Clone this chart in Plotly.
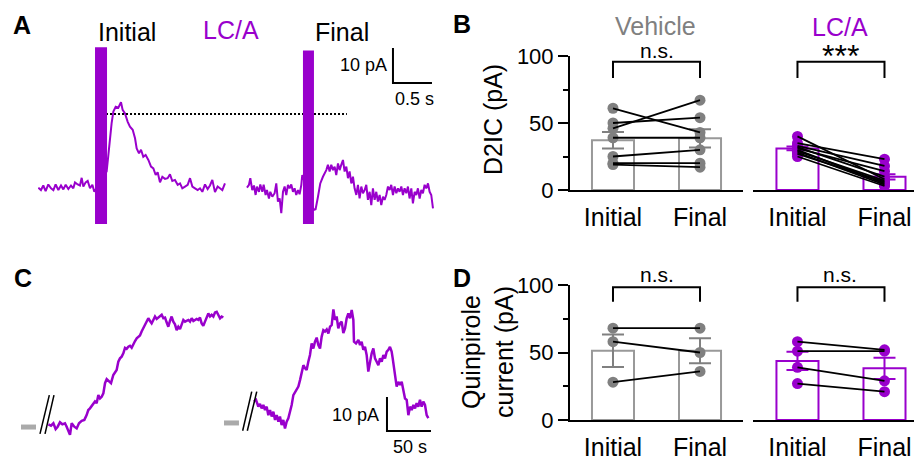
import plotly.graph_objects as go

# page pixel size of the reference; the browser puts an 8 px body margin around the figure
W, H = 922, 457
PAD = 8
FW, FH = W - PAD, H - PAD
PURPLE = '#9900cc'
GREY = '#808080'
GREY_BAR = '#999999'
GREY_HOLD = '#aaaaaa'
FONT = 'Liberation Sans, Arial, sans-serif'

# ---------------- Panel A : evoked D2-IPSC traces (time s, current pA) ----------------
a_init_t = [0.004,0.038,0.068,0.098,0.132,0.167,0.197,0.226,0.261,0.295,0.325,0.355,0.389,0.423,0.453,0.474,0.509,0.538,0.560,0.581,0.611,0.637,0.667,0.697,0.722,
            0.880,0.902,0.923,0.944,0.966,0.996,1.030,1.064,1.085,1.115,1.150,1.179,1.214,1.244,1.265,1.295,1.321,1.350,1.380,1.415,1.449,1.479,1.509,1.534,1.564,
            1.594,1.628,1.662,1.692,1.722,1.756,1.791,1.821,1.850,1.885,1.919,1.949,1.979,2.013,2.047,2.077,2.107,2.141,2.175,2.205,2.235,2.269,2.303,2.333,2.363,2.397]
a_init_pA = [0.2,-0.5,0.8,-0.8,1.1,0.0,-0.5,1.1,-0.5,0.8,-0.3,1.0,-0.2,0.8,0.0,1.7,1.1,0.8,3.0,0.5,1.7,2.1,0.0,1.0,-1.0,
             4.8,9.5,14.3,18.6,21.9,23.3,23.0,24.6,22.4,21.4,19.0,17.6,16.7,14.3,11.4,10.0,11.0,9.0,9.5,8.1,6.2,5.7,3.8,4.6,1.7,
             3.3,2.7,2.9,4.0,2.1,2.4,1.0,1.4,0.0,0.5,1.0,2.9,0.5,0.0,-0.5,0.0,-1.0,1.1,-0.2,0.8,2.4,-1.1,0.5,0.0,-0.5,1.4]
a_final_t = [0.000,0.026,0.043,0.068,0.090,0.111,0.128,0.154,0.171,0.197,0.214,0.239,0.256,0.282,0.299,0.325,0.355,0.376,0.397,0.419,0.440,0.462,0.483,0.504,0.526,
             0.547,0.568,0.590,0.611,0.632,0.654,0.675,0.697,0.709,
             0.855,0.880,0.910,0.940,0.974,0.996,1.017,1.038,1.060,1.081,1.103,1.124,1.145,1.167,1.188,1.209,1.231,1.252,1.274,1.295,1.316,1.338,1.359,1.380,1.402,
             1.423,1.444,1.466,1.487,1.509,1.530,1.551,1.573,1.594,1.615,1.637,1.658,1.679,1.701,1.722,1.744,1.765,1.786,1.808,1.829,1.850,1.872,1.893,1.915,1.936,
             1.957,1.979,2.000,2.021,2.043,2.064,2.085,2.107,2.128,2.150,2.171,2.192,2.214,2.235,2.256,2.278,2.299,2.321,2.342,2.363,2.385]
a_final_pA = [0.2,1.0,2.9,-0.5,0.8,-1.9,0.5,-1.0,1.1,-1.0,1.0,-1.9,-0.5,-2.9,-1.0,-2.4,-1.4,1.4,-3.8,-2.9,-7.1,-1.0,0.5,-1.9,1.0,
              0.0,1.1,-1.0,0.0,-1.9,-0.5,-1.7,1.0,3.8,
              -6.2,-6.0,-2.5,1.4,3.3,4.3,5.2,6.7,4.8,6.7,5.2,6.2,3.8,7.1,5.2,6.7,8.1,4.8,6.2,2.9,4.8,1.4,3.3,0.0,-1.9,
              1.0,-2.9,0.5,-1.4,-0.5,1.0,-3.3,-1.0,-4.8,0.0,-3.3,-1.0,-3.8,-1.9,-4.8,-2.4,-3.3,-1.9,0.5,-0.5,1.0,-1.9,0.5,-1.4,0.0,
              -1.0,0.5,-1.9,0.0,-1.4,0.5,-2.9,0.0,-4.3,-1.0,-1.9,0.0,-2.9,-0.5,-1.4,1.0,0.0,1.4,-1.0,-1.9,-5.7]
a_final_offset = 2.679          # s, horizontal placement of the "Final" sweep
a_stim_init = [0.731, 0.885]    # stimulus artifact window (s)
a_stim_final = [0.718, 0.859]
a_stim_init_pA = [-10.2, 40.3]
a_stim_final_pA = [-10.2, 39.4]
a_peak_ref_pA = 21.2
a_peak_ref_t = [0.872, 3.96]
a_scale_t = [4.551, 5.051]      # 0.5 s
a_scale_pA = [30.1, 40.1]       # 10 pA

# ---------------- Panel C : quinpirole currents (time s, current pA) ----------------
c1_t = [0.4,3.4,6.1,8.7,11.0,13.6,16.3,19.3,21.2,23.1, 25.0,26.9,29.9,32.6,35.2,38.3,41.3,43.9,45.8,47.7,
        50.4,53.4,55.3,57.2,59.1,61.0,62.9,64.8,66.7,69.3, 71.6,74.2,76.1,78.0,79.9,81.8,83.7,85.6,87.5,89.4,
        91.3,93.2,95.1,97.0,98.9,100.8,102.7,104.5,106.4,108.3, 110.2,112.1,114.0,115.9,117.8,119.7,121.6,123.5,125.4,127.3,
        129.2,131.1,133.0,134.8,136.7,138.6,140.5,142.4,144.3,146.2, 148.1,150.0,151.9,153.8,155.7,157.6,159.5,161.4,163.3,165.2,
        167.0,168.9,170.8,172.7,174.6,176.5,178.4,180.3,182.2,184.1, 186.0,187.9,189.8,191.7,193.6,195.5,197.3,199.2]
c1_pA = [0.2,-0.2,0.5,-1.2,-0.5,0.8,0.2,0.5,-0.5,-2.0, -2.9,0.5,-0.5,-1.0,0.5,1.2,1.5,2.9,4.4,4.9,
         5.9,6.9,6.4,8.8,7.8,8.3,9.3,12.3,13.5,12.7, 12.3,14.7,15.7,16.2,18.6,19.6,20.1,21.1,22.7,22.4,
         23.0,23.3,22.7,24.0,24.7,25.5,26.0,26.3,27.5,28.4, 29.6,30.2,31.4,30.6,29.9,30.9,31.9,31.2,31.6,31.9,
         32.4,31.4,31.6,30.2,28.9,30.6,31.9,30.4,29.6,27.9, 28.9,28.2,29.4,30.9,30.4,30.6,30.9,30.4,31.4,30.6,
         30.9,31.2,30.9,31.6,29.9,29.2,30.4,31.6,32.8,31.9, 32.4,31.9,33.1,33.3,32.5,31.4,31.9,31.6]
c2_t = [0.0,2.3,4.9,6.8,8.7,10.6,12.5,14.4,16.3,18.2, 20.1,22.0,23.9,25.8,27.7,29.5,31.4,33.3,35.2,37.1,
        39.0,40.9,42.8,44.7,46.6,48.5,50.4,52.3,54.2,56.1, 58.0,59.8,61.7,63.6,65.5,67.4,69.3,71.2,73.1,75.0,
        76.9,78.8,80.7,82.6,84.5,86.4,88.3,90.2,92.0,93.9, 95.8,97.7,99.6,101.5,103.4,105.3,107.2,109.1,111.0,112.9,
        113.6,115.9,118.6,120.5,122.3,124.2,126.1,128.0,129.9,131.8, 133.7,135.6,137.5,139.4,141.3,143.2,145.1,147.0,148.9,150.8,
        152.7,154.5,156.4,157.6,159.1,160.2,162.1,164.0,165.9,167.8, 169.7,171.6,173.5,175.4,177.3,179.2,181.1,183.0,184.8,186.7,
        188.6,190.5,192.4,194.3,196.2,198.1]
c2_pA = [6.9,7.4,5.4,6.2,4.9,5.9,4.4,5.4,2.9,4.4, 2.5,3.9,1.5,2.9,1.0,2.5,0.0,1.5,-1.0,1.0,
         2.0,3.9,5.9,8.8,9.8,10.3,11.3,13.2,15.2,17.6, 16.7,16.2,18.6,20.6,24.0,22.5,24.5,25.7,23.5,22.5,
         26.0,27.9,27.5,28.1,26.9,28.9,29.4,34.0,30.9,31.9, 28.4,29.9,30.4,27.0,28.4,31.4,32.8,31.4,33.8,30.9,
         24.5,24.0,25.0,23.5,24.5,22.1,23.0,20.6,15.7,19.1, 21.1,22.5,19.6,18.6,17.6,19.6,18.6,20.6,19.6,21.6,
         22.1,23.0,21.6,19.6,17.2,14.7,11.3,12.7,11.8,12.7, 9.8,7.8,7.4,2.9,5.4,4.4,5.9,4.9,6.4,5.4,
         7.4,5.4,6.9,5.9,2.9,2.0]
c2_offset = 234.1
c_hold1_t = [-30.7, -13.6]
c_hold1_pA = -0.6
c_hold2_t = [200.0, 217.0]
c_hold2_pA = 0.6
c_break1_t = [[-9.1, 1.5], [-3.4, 6.8]]
c_break1_pA = [-2.6, 8.8]
c_break2_t = [[221.2, 231.5], [226.5, 237.2]]
c_break2_pA = [-1.7, 9.8]
c_scale_t = [385.2, 435.2]     # 50 s
c_scale_pA = [-1.8, 8.2]       # 10 pA

# ---------------- Panel B : D2IC (pA) ----------------
conditions = ['Initial', 'Final']
b_veh_initial = [61, 50, 46, 39, 25, 20, 19]
b_veh_final = [43, 54, 67, 39, 30, 20, 17]
b_veh_sem = [6.2, 6.8]
b_lca_initial = [40, 35, 33, 32, 31, 30, 29, 28, 27, 25]
b_lca_final = [8, 23, 18, 10, 14, 5, 7, 4, 6, 3]
b_lca_sem = [1.4, 2.0]
b_bracket = [83.5, 95.7]

# ---------------- Panel D : Quinpirole current (pA) ----------------
d_veh_initial = [68, 58, 28]
d_veh_final = [68, 50, 36]
d_veh_sem = [12.0, 9.3]
d_lca_initial = [58, 51, 39, 27]
d_lca_final = [52, 51, 29, 21]
d_lca_sem = [6.8, 7.8]
d_bracket = [87.6, 98.3]


def mean(v):
    return sum(v) / len(v)


def px_x(p):
    return (p - PAD) / FW


def px_y(p):
    return 1 - (p - PAD) / FH


def dx(a, b):
    return [px_x(a), min(1.0, px_x(b))]


def dy(top, bottom):
    return [px_y(bottom), px_y(top)]


fig = go.Figure()

# ----- Panel A -----
fig.add_trace(go.Scatter(x=a_init_t, y=a_init_pA, mode='lines', line=dict(color=PURPLE, width=2),
                         xaxis='x', yaxis='y', hoverinfo='skip'))
fig.add_trace(go.Scatter(x=[t + a_final_offset for t in a_final_t], y=a_final_pA, mode='lines',
                         line=dict(color=PURPLE, width=2), xaxis='x', yaxis='y', hoverinfo='skip'))
fig.add_trace(go.Scatter(x=a_peak_ref_t, y=[a_peak_ref_pA] * 2, mode='lines',
                         line=dict(color='black', width=2, dash='2px,2px'), xaxis='x', yaxis='y'))
fig.add_trace(go.Scatter(x=[a_scale_t[0], a_scale_t[0], a_scale_t[1]],
                         y=[a_scale_pA[1], a_scale_pA[0], a_scale_pA[0]], mode='lines',
                         line=dict(color='black', width=2), xaxis='x', yaxis='y'))
shapes = [
    dict(type='rect', xref='x', yref='y', x0=a_stim_init[0], x1=a_stim_init[1],
         y0=a_stim_init_pA[0], y1=a_stim_init_pA[1], fillcolor=PURPLE, line=dict(width=0), layer='above'),
    dict(type='rect', xref='x', yref='y', x0=a_stim_final[0] + a_final_offset, x1=a_stim_final[1] + a_final_offset,
         y0=a_stim_final_pA[0], y1=a_stim_final_pA[1], fillcolor=PURPLE, line=dict(width=0), layer='above'),
]

# ----- Panel C -----
fig.add_trace(go.Scatter(x=c1_t, y=c1_pA, mode='lines', line=dict(color=PURPLE, width=2.5),
                         xaxis='x2', yaxis='y2'))
fig.add_trace(go.Scatter(x=[t + c2_offset for t in c2_t], y=c2_pA, mode='lines',
                         line=dict(color=PURPLE, width=2.5), xaxis='x2', yaxis='y2'))
for ht, hp in [(c_hold1_t, c_hold1_pA), (c_hold2_t, c_hold2_pA)]:
    fig.add_trace(go.Scatter(x=ht, y=[hp, hp], mode='lines', line=dict(color=GREY_HOLD, width=5),
                             xaxis='x2', yaxis='y2'))
for bt, bp in [(c_break1_t, c_break1_pA), (c_break2_t, c_break2_pA)]:
    bx, by = [], []
    for seg in bt:
        bx += [seg[0], seg[1], None]
        by += [bp[0], bp[1], None]
    fig.add_trace(go.Scatter(x=bx, y=by, mode='lines', line=dict(color='black', width=1.5),
                             xaxis='x2', yaxis='y2'))
fig.add_trace(go.Scatter(x=[c_scale_t[0], c_scale_t[0], c_scale_t[1]],
                         y=[c_scale_pA[1], c_scale_pA[0], c_scale_pA[0]], mode='lines',
                         line=dict(color='black', width=2), xaxis='x2', yaxis='y2'))


# ----- Bar panels -----
def bar_group(xa, ya, init, fin, sem, color, barline, bracket):
    means = [mean(init), mean(fin)]
    fig.add_trace(go.Bar(x=[0, 1], y=means, width=0.483, xaxis=xa, yaxis=ya,
                         marker=dict(color='white', line=dict(color=barline, width=2)),
                         error_y=dict(type='data', array=sem, color=color, thickness=2, width=11)))
    lx, ly = [], []
    for a, b in zip(init, fin):
        lx += [0, 1, None]
        ly += [a, b, None]
    fig.add_trace(go.Scatter(x=[0] * len(init) + [1] * len(fin), y=init + fin, mode='markers',
                             marker=dict(color=color, size=11), xaxis=xa, yaxis=ya, cliponaxis=False))
    fig.add_trace(go.Scatter(x=lx, y=ly, mode='lines', line=dict(color='black', width=1.8),
                             xaxis=xa, yaxis=ya, cliponaxis=False))
    fig.add_trace(go.Scatter(x=[0, 0, 1, 1], y=[bracket[0], bracket[1], bracket[1], bracket[0]], mode='lines',
                             line=dict(color='black', width=2), xaxis=xa, yaxis=ya, cliponaxis=False))


bar_group('x3', 'y3', b_veh_initial, b_veh_final, b_veh_sem, GREY, GREY_BAR, b_bracket)
bar_group('x4', 'y4', b_lca_initial, b_lca_final, b_lca_sem, PURPLE, PURPLE, b_bracket)
bar_group('x5', 'y5', d_veh_initial, d_veh_final, d_veh_sem, GREY, GREY_BAR, d_bracket)
bar_group('x6', 'y6', d_lca_initial, d_lca_final, d_lca_sem, PURPLE, PURPLE, d_bracket)

hidden = dict(visible=False, showgrid=False, zeroline=False, automargin=False)


def cat_x(dom, rng, anchor):
    return dict(domain=dom, range=rng, anchor=anchor, showline=True, linecolor='black', linewidth=2,
                tickmode='array', tickvals=[0, 1], ticktext=conditions, ticks='outside', ticklen=4,
                tickcolor='rgba(0,0,0,0)', tickfont=dict(size=25, color='black', family=FONT),
                showgrid=False, zeroline=False, fixedrange=True, automargin=False)


def val_y(dom, anchor, visible=True):
    d = dict(domain=dom, range=[0, 100], anchor=anchor, showgrid=False, zeroline=False, fixedrange=True,
             automargin=False)
    if visible:
        d.update(showline=True, linecolor='black', linewidth=2, tickmode='array', tickvals=[0, 50, 100],
                 ticks='outside', ticklen=10, tickwidth=2, tickcolor='black',
                 tickfont=dict(size=22, color='black', family=FONT),
                 minor=dict(tickmode='array', tickvals=[25, 75], ticks='outside', ticklen=5,
                            tickwidth=2, tickcolor='black'))
    else:
        d.update(visible=False)
    return d


# B/D x-axes: pixel positions of the axis lines and category centres
bx_veh = dx(570, 743)
bx_lca = dx(753, 922)

layout = dict(
    width=FW, height=FH, margin=dict(l=0, r=0, t=0, b=0, autoexpand=False), showlegend=False,
    plot_bgcolor='white', paper_bgcolor='white', font=dict(family=FONT, color='black'),
    xaxis=dict(domain=dx(38, 440), range=[0, 5.154], anchor='y', **hidden),
    yaxis=dict(domain=dy(40, 230), range=[-11.91, 42.37], anchor='x', **hidden),
    xaxis2=dict(domain=dx(10, 440), range=[-43.18, 445.45], anchor='y2', **hidden),
    yaxis2=dict(domain=dy(300, 440), range=[-4.41, 36.76], anchor='x2', **hidden),
    xaxis3=cat_x(bx_veh, [-0.494, 1.494], 'y3'),
    yaxis3=val_y(dy(56, 190), 'x3'),
    xaxis4=cat_x(bx_lca, [-0.511, 1.431], 'y4'),
    yaxis4=val_y(dy(56, 190), 'x4', visible=False),
    xaxis5=cat_x(bx_veh, [-0.494, 1.494], 'y5'),
    yaxis5=val_y(dy(285, 420), 'x5'),
    xaxis6=cat_x(bx_lca, [-0.511, 1.431], 'y6'),
    yaxis6=val_y(dy(285, 420), 'x6', visible=False),
    shapes=shapes,
)
fig.update_layout(**layout)


def txt(text, x, y, size=25, color='black', xanchor='center', yanchor='middle', angle=0):
    fig.add_annotation(text=text, x=px_x(x), y=px_y(y), xref='paper', yref='paper', showarrow=False,
                       xanchor=xanchor, yanchor=yanchor, textangle=angle,
                       font=dict(size=size, color=color, family=FONT))


# panel letters
txt('<b>A</b>', 22, 25)
txt('<b>B</b>', 462, 24)
txt('<b>C</b>', 23, 278)
txt('<b>D</b>', 462, 278)
# panel A labels
txt('Initial', 127, 32)
txt('LC/A', 231, 30, color=PURPLE)
txt('Final', 342, 32)
txt('10 pA', 389, 65, size=18, xanchor='right')
txt('0.5 s', 414, 99, size=18)
# panel B labels
txt('Vehicle', 655, 26, color=GREY)
txt('LC/A', 840, 27, color=PURPLE)
txt('n.s.', 657, 50, size=21)
txt('***', 840, 56, size=32)
txt('D2IC (pA)', 493, 120, angle=-90)
# panel C labels
txt('10 pA', 381, 415, size=18, xanchor='right')
txt('50 s', 410, 447, size=18)
# panel D labels
txt('n.s.', 657, 274, size=21)
txt('n.s.', 840, 274, size=21)
txt('Quinpirole<br>current (pA)', 487, 352, angle=-90)

fig.write_html('out.html')
